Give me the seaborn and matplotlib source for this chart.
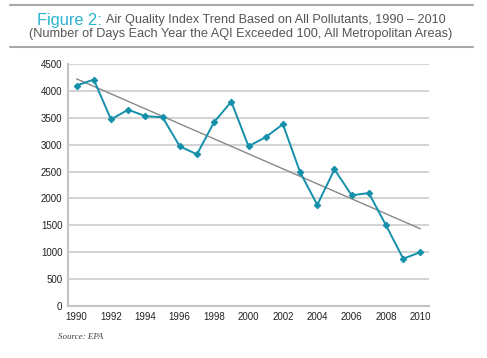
import numpy as np
import pandas as pd
import matplotlib
matplotlib.use("Agg")
import matplotlib.pyplot as plt
from matplotlib.lines import Line2D
import seaborn as sns

# days per year with AQI > 100
years = list(range(1990, 2011))
days = [4100, 4210, 3470, 3650, 3530, 3510, 2970, 2820, 3420, 3800, 2970,
        3140, 3380, 2490, 1880, 2540, 2060, 2100, 1500, 880, 1000]
yticks = [0, 500, 1000, 1500, 2000, 2500, 3000, 3500, 4000, 4500]
xlabels = list(range(1990, 2011, 2))

df = pd.DataFrame({"year": years, "days": days})

sns.set_style("white")
plt.rcParams['font.family'] = ['Liberation Sans', 'DejaVu Sans']

fig = plt.figure(figsize=(4.87, 3.58), dpi=100)
ax = fig.add_axes([68 / 487, 1 - 306 / 358, (429 - 68) / 487, (306 - 64) / 358])

teal = "#1590ab"
sns.lineplot(data=df, x="year", y="days", ax=ax, color=teal, lw=1.4,
             marker="D", markersize=3.3, markeredgecolor=teal, zorder=3)
# linear trend
sns.regplot(data=df, x="year", y="days", ax=ax, scatter=False, ci=None,
            truncate=True, line_kws={"color": "#888888", "lw": 1.0, "zorder": 2})

ax.set_xlim(1989.5, 2010.5)
ax.set_ylim(0, 4500)
ax.set_yticks(yticks)
ax.set_xticks(xlabels)
ax.set_xticks(np.arange(1989.5, 2011, 1), minor=True)
ax.tick_params(axis="x", which="major", length=0, labelsize=7, pad=4,
               labelcolor="#222222")
ax.tick_params(axis="x", which="minor", length=3, color="#bbbbbb", width=1)
ax.tick_params(axis="y", length=0, labelsize=7, pad=4, labelcolor="#222222")
ax.set_xlabel("")
ax.set_ylabel("")
ax.yaxis.grid(True, color="#d4d4d4", lw=1.5)
ax.set_axisbelow(True)
for s in ["top", "right"]:
    ax.spines[s].set_visible(False)
for s in ["left", "bottom"]:
    ax.spines[s].set_color("#c4c4c4")
    ax.spines[s].set_linewidth(1.5)

# header rules
for yy in [5, 47]:
    fig.add_artist(Line2D([10 / 487, 473 / 487], [1 - yy / 358] * 2,
                          color="#a8a8a8", lw=1.5))

fig.text(102 / 487, 1 - 20 / 358, "Figure 2:", ha="right", va="center",
         fontsize=11.8, color="#2bb3cf")
fig.text(106 / 487, 1 - 20 / 358,
         "Air Quality Index Trend Based on All Pollutants, 1990 \u2013 2010",
         ha="left", va="center", fontsize=9.1, color="#555555")
fig.text(241 / 487, 1 - 34 / 358,
         "(Number of Days Each Year the AQI Exceeded 100, All Metropolitan Areas)",
         ha="center", va="center", fontsize=9.2, color="#555555")

fig.text(58 / 487, 1 - 337 / 358, "Source: EPA", ha="left", va="center",
         fontsize=6.5, style="italic", family=["Liberation Serif", "DejaVu Serif"],
         color="#444444")

fig.savefig("out.png", dpi=100)
